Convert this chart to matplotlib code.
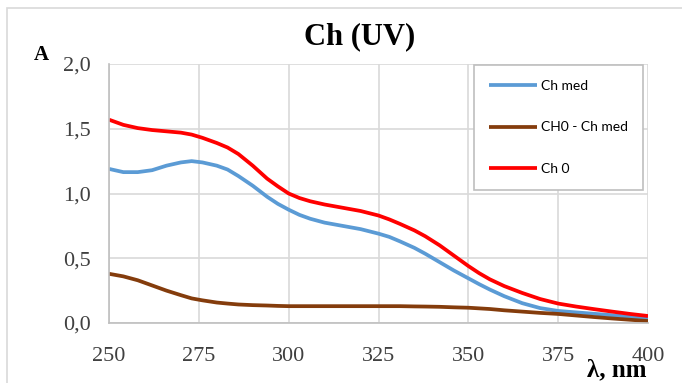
import matplotlib.pyplot as plt
from matplotlib.patches import Rectangle
from matplotlib.ticker import FuncFormatter

# wavelength, nm
wl = [250, 254, 258, 262, 266, 270, 273, 276, 280, 283, 286, 290, 294, 297, 300, 303, 306,
      310, 315, 320, 325, 328, 331, 335, 338, 342, 346, 350, 353, 356, 360, 365, 370, 375,
      380, 385, 390, 395, 400]

ch_med = [1.19, 1.165, 1.165, 1.18, 1.215, 1.24, 1.25, 1.24, 1.215, 1.185, 1.135, 1.06, 0.975,
          0.92, 0.875, 0.835, 0.805, 0.775, 0.75, 0.725, 0.69, 0.665, 0.63, 0.58, 0.535,
          0.47, 0.405, 0.345, 0.30, 0.258, 0.207, 0.153, 0.115, 0.093, 0.082, 0.071, 0.06,
          0.048, 0.036]

ch0_minus_med = [0.38, 0.36, 0.33, 0.29, 0.25, 0.215, 0.19, 0.175, 0.158, 0.15, 0.143, 0.138,
                 0.135, 0.132, 0.13, 0.13, 0.13, 0.13, 0.13, 0.13, 0.13, 0.13, 0.13, 0.128,
                 0.127, 0.125, 0.121, 0.118, 0.113, 0.108, 0.098, 0.088, 0.078, 0.07, 0.058,
                 0.046, 0.035, 0.025, 0.015]

ch0 = [1.57, 1.53, 1.505, 1.49, 1.48, 1.47, 1.455, 1.43, 1.39, 1.355, 1.305, 1.215, 1.115, 1.055,
       1.00, 0.965, 0.94, 0.915, 0.89, 0.865, 0.83, 0.80, 0.765, 0.715, 0.67, 0.60, 0.52,
       0.44, 0.385, 0.337, 0.285, 0.232, 0.185, 0.15, 0.127, 0.107, 0.088, 0.07, 0.054]

fig = plt.figure(figsize=(6.82, 3.83), dpi=100)
fig.patches.append(Rectangle((7 / 682, -0.1), 1.2, 1.1 - 8 / 383, transform=fig.transFigure,
                             fill=False, edgecolor='#D9D9D9', linewidth=1.2))
ax = fig.add_axes([109 / 682, 1 - 323 / 383, 539 / 682, 259 / 383])

kw = dict(lw=2.7, solid_joinstyle='round', solid_capstyle='butt')
ax.plot(wl, ch_med, color='#5B9BD5', label='Ch med', **kw)
ax.plot(wl, ch0_minus_med, color='#843C0C', label='CH0 - Ch med', **kw)
ax.plot(wl, ch0, color='#FF0000', label='Ch 0', **kw)

ax.set_xlim(250, 400)
ax.set_ylim(0, 2.0)
ax.set_xticks(range(250, 401, 25))
ax.set_yticks([0, 0.5, 1.0, 1.5, 2.0])
ax.yaxis.set_major_formatter(FuncFormatter(lambda v, p: f"{v:.1f}".replace('.', ',')))
ax.grid(True, color='#D9D9D9', lw=1.2)
ax.set_axisbelow(True)
for s in ['top', 'right']:
    ax.spines[s].set_visible(False)
for s in ['left', 'bottom']:
    ax.spines[s].set_color('#BFBFBF')
    ax.spines[s].set_linewidth(1.2)
ax.tick_params(length=0, labelsize=16, labelfontfamily='Liberation Serif', colors='#404040')
ax.tick_params(axis='x', pad=17)
ax.tick_params(axis='y', pad=13)

fig.text(359.5 / 682, 1 - 37 / 383, 'Ch (UV)', ha='center', va='center',
         fontsize=22, fontweight='bold', family='Liberation Serif')
fig.text(41 / 682, 1 - 55 / 383, 'A', ha='center', va='center',
         fontsize=15, fontweight='bold', family='Liberation Serif')
fig.text(617 / 682, 1 - 376 / 383, 'λ, nm', ha='center', va='baseline',
         fontsize=18, fontweight='bold', family='Liberation Serif')

leg = ax.legend(loc='upper right', bbox_to_anchor=(643 / 682, 1 - 65 / 383),
                bbox_transform=fig.transFigure, borderaxespad=0, fancybox=False,
                edgecolor='#BFBFBF', framealpha=1, handlelength=3.5, labelspacing=2.15,
                prop={'family': 'Lato', 'size': 10}, borderpad=1.05,
                handletextpad=0.3)
leg.get_frame().set_linewidth(1.2)

fig.savefig('out.png', dpi=100)
